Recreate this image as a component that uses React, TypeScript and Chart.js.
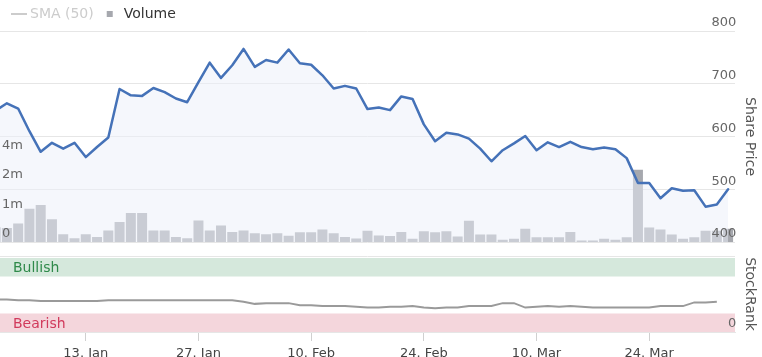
import React, { useEffect, useRef } from 'react';
import { Chart, registerables } from 'chart.js';

Chart.register(...registerables);

// Trading days shown on the ordinal x axis
const DAYS = [
  '31. Dec', '2. Jan', '3. Jan', '6. Jan', '7. Jan', '8. Jan', '9. Jan', '10. Jan',
  '13. Jan', '14. Jan', '15. Jan', '16. Jan', '17. Jan', '20. Jan', '21. Jan', '22. Jan', '23. Jan', '24. Jan',
  '27. Jan', '28. Jan', '29. Jan', '30. Jan', '31. Jan', '3. Feb', '4. Feb', '5. Feb', '6. Feb', '7. Feb',
  '10. Feb', '11. Feb', '12. Feb', '13. Feb', '14. Feb', '17. Feb', '18. Feb', '19. Feb', '20. Feb', '21. Feb',
  '24. Feb', '25. Feb', '26. Feb', '27. Feb', '28. Feb', '3. Mar', '4. Mar', '5. Mar', '6. Mar', '7. Mar',
  '10. Mar', '11. Mar', '12. Mar', '13. Mar', '14. Mar', '17. Mar', '18. Mar', '19. Mar', '20. Mar', '21. Mar',
  '24. Mar', '25. Mar', '26. Mar', '27. Mar', '28. Mar', '31. Mar', '1. Apr', '2. Apr',
];

const TICK_DAYS = ['13. Jan', '27. Jan', '10. Feb', '24. Feb', '10. Mar', '24. Mar'];

// Share price (pence)
const PRICE = [
  649, 663, 653, 610, 571, 588, 577, 588, 561, 580,
  598, 690, 678, 677, 692, 684, 672, 665, 703, 740,
  711, 735, 766, 732, 745, 740, 765, 739, 736, 716,
  691, 696, 691, 652, 655, 650, 676, 671, 623, 591,
  607, 604, 596, 577, 553, 574, 587, 601, 574, 589,
  580, 590, 580, 576, 579, 576, 559, 512, 512, 483,
  502, 497, 498, 467, 471, 500,
];

// Volume (millions of shares)
const VOLUME = [
  0.5, 0.47, 0.63, 1.09, 1.19, 0.77, 0.26, 0.13, 0.26, 0.17,
  0.39, 0.68, 0.98, 0.98, 0.39, 0.39, 0.17, 0.13, 0.73, 0.39,
  0.56, 0.34, 0.39, 0.30, 0.26, 0.30, 0.21, 0.33, 0.33, 0.42,
  0.30, 0.17, 0.12, 0.38, 0.22, 0.20, 0.34, 0.11, 0.36, 0.33,
  0.36, 0.19, 0.72, 0.25, 0.25, 0.08, 0.11, 0.45, 0.16, 0.16,
  0.16, 0.34, 0.05, 0.05, 0.11, 0.08, 0.16, 2.72, 0.49, 0.42,
  0.25, 0.11, 0.16, 0.38, 0.38, 0.45,
];

// StockRank
const STOCKRANK = [
  44, 44, 43, 43, 42, 42, 42, 42, 42, 42,
  43, 43, 43, 43, 43, 43, 43, 43, 43, 43,
  43, 43, 41, 38, 39, 39, 39, 36, 36, 35,
  35, 35, 34, 33, 33, 34, 34, 35, 33, 32,
  33, 33, 35, 35, 35, 39, 39, 33, 34, 35,
  34, 35, 34, 33, 33, 33, 33, 33, 33, 35,
  35, 35, 40, 40, 41, null,
];

const PRICE_TICKS = [400, 500, 600, 700, 800];
const VOL_TICKS = [0, 1, 2, 4];
const VOL_TICK_LABELS = ['0', '1m', '2m', '4m'];
const BULL_RANGE = [75, 100];
const BEAR_RANGE = [0, 25];
const BAND_LABELS = ['Bullish', 'Bearish'];

// view settings
const X_MIN = 0.389;
const X_MAX = 65.63;
const VOL_MAX = 7.14;
const SR_TOP = 102.67;

const volT = (v: number) => (v <= 1 ? v : 1 + Math.log2(v));

const BAR_COLOR = 'rgb(166,168,174)';
const LINE_COLOR = '#4572b8';
const BULL_BG = 'rgb(213,232,220)';
const BEAR_BG = 'rgb(244,214,220)';
const BULL_TEXT = '#2f8a4a';
const BEAR_TEXT = '#d13a5c';

const zeroWidth = (s: any) => {
  s.width = 0;
};

export default function App() {
  const topRef = useRef<HTMLCanvasElement>(null);
  const botRef = useRef<HTMLCanvasElement>(null);

  useEffect(() => {
    document.body.style.margin = '0';
    Chart.defaults.font.family = "'DejaVu Sans', sans-serif";
    Chart.defaults.font.size = 13;

    const idx = DAYS.map((_, i) => i);

    const smaSymbol = document.createElement('canvas');
    smaSymbol.width = 22;
    smaSymbol.height = 2;
    const sctx = smaSymbol.getContext('2d')!;
    sctx.fillStyle = '#cccccc';
    sctx.fillRect(6, 0, 16, 2);

    const top = new Chart(topRef.current!, {
      data: {
        datasets: [
          {
            type: 'line',
            label: 'SMA (50)',
            data: [],
            borderColor: '#cccccc',
            borderWidth: 2,
            yAxisID: 'yP',
            order: 0,
          },
          {
            type: 'bar',
            label: 'Volume',
            data: idx.map((i) => ({ x: i, y: volT(VOLUME[i]) })),
            backgroundColor: BAR_COLOR,
            borderWidth: 0,
            barPercentage: 1,
            categoryPercentage: 0.885,
            yAxisID: 'yV',
            order: 2,
            clip: 0,
          },
          {
            type: 'line',
            label: 'Share Price',
            data: idx.map((i) => ({ x: i, y: PRICE[i] })),
            borderColor: LINE_COLOR,
            borderWidth: 2.5,
            borderJoinStyle: 'round',
            borderCapStyle: 'round',
            pointRadius: 0,
            tension: 0,
            fill: { value: PRICE_TICKS[0] },
            backgroundColor: 'rgba(235,240,249,0.5)',
            yAxisID: 'yP',
            order: 0,
            clip: 0,
          },
        ],
      } as any,
      options: {
        animation: false,
        responsive: false,
        maintainAspectRatio: false,
        layout: { padding: { top: -2, left: 0, right: 0, bottom: 115 } },
        plugins: {
          tooltip: { enabled: false },
          legend: {
            position: 'top',
            align: 'start',
            labels: {
              usePointStyle: true,
              boxHeight: 6,
              padding: 9,
              font: { size: 14 },
              color: '#333333',
              generateLabels: (chart: any) => {
                const items = (Chart.defaults.plugins.legend.labels as any).generateLabels(chart);
                return items
                  .filter((it: any) => it.datasetIndex !== 2)
                  .map((it: any) =>
                    it.datasetIndex === 0
                      ? { ...it, pointStyle: smaSymbol, fontColor: '#cccccc', lineWidth: 0 }
                      : { ...it, pointStyle: 'rect', fillStyle: BAR_COLOR, strokeStyle: BAR_COLOR, lineWidth: 0, fontColor: '#333333' }
                  );
              },
            },
          },
        },
        scales: {
          x: { type: 'linear', min: X_MIN, max: X_MAX, offset: false, display: false },
          yP: {
            type: 'linear',
            position: 'right',
            min: PRICE_TICKS[0],
            max: PRICE_TICKS[PRICE_TICKS.length - 1],
            afterBuildTicks: (s: any) => {
              s.ticks = PRICE_TICKS.map((v) => ({ value: v }));
            },
            ticks: { mirror: true, padding: 1, labelOffset: -8, color: '#666666', z: 1, font: { size: 13 } },
            grid: { color: '#e6e6e6', drawTicks: false },
            border: { display: false },
            title: { display: true, text: 'Share Price', color: '#555555', font: { size: 14 } },
          },
          yV: {
            type: 'linear',
            position: 'left',
            min: 0,
            max: VOL_MAX,
            afterBuildTicks: (s: any) => {
              s.ticks = VOL_TICKS.map((v) => ({ value: volT(v) }));
            },
            afterFit: zeroWidth,
            ticks: {
              mirror: true,
              padding: 2,
              labelOffset: -8,
              color: '#666666',
              z: 1,
              callback: (_v: any, i: number) => VOL_TICK_LABELS[i],
            },
            grid: { display: false, drawTicks: false },
            border: { display: false },
          },
        },
      } as any,
    });

    const bot = new Chart(botRef.current!, {
      data: {
        datasets: [
          {
            type: 'line',
            label: 'StockRank',
            data: idx.map((i) => ({ x: i, y: STOCKRANK[i] })),
            borderColor: '#9a9a9a',
            borderWidth: 2,
            pointRadius: 0,
            fill: false,
            yAxisID: 'ySR',
            order: -1,
            clip: 0,
          },
          {
            type: 'line',
            label: 'Bullish',
            data: [
              { x: X_MIN, y: BULL_RANGE[1] },
              { x: X_MAX, y: BULL_RANGE[1] },
            ],
            borderColor: 'rgba(0,0,0,0)',
            borderWidth: 0,
            pointRadius: 0,
            fill: { value: BULL_RANGE[0] },
            backgroundColor: BULL_BG,
            yAxisID: 'ySR',
            order: 1,
          },
          {
            type: 'line',
            label: 'Bearish',
            data: [
              { x: X_MIN, y: BEAR_RANGE[1] },
              { x: X_MAX, y: BEAR_RANGE[1] },
            ],
            borderColor: 'rgba(0,0,0,0)',
            borderWidth: 0,
            pointRadius: 0,
            fill: { value: BEAR_RANGE[0] },
            backgroundColor: BEAR_BG,
            yAxisID: 'ySR',
            order: 1,
          },
        ],
      } as any,
      options: {
        animation: false,
        responsive: false,
        maintainAspectRatio: false,
        layout: { padding: { top: 256, left: 0, right: 0, bottom: 0 } },
        plugins: { legend: { display: false }, tooltip: { enabled: false } },
        scales: {
          x: {
            type: 'linear',
            min: X_MIN,
            max: X_MAX,
            offset: false,
            afterBuildTicks: (s: any) => {
              s.ticks = TICK_DAYS.map((d) => ({ value: DAYS.indexOf(d) }));
            },
            afterFit: (s: any) => {
              s.paddingLeft = 0;
              s.paddingRight = 0;
            },
            ticks: {
              callback: (v: any) => DAYS[v],
              color: '#444444',
              font: { size: 13, lineHeight: 1 },
              padding: 6,
              maxRotation: 0,
              autoSkip: false,
            },
            grid: { drawOnChartArea: false, drawTicks: true, tickLength: 9, color: '#d0d0d0' },
            border: { display: true, color: '#e6e6e6' },
          },
          ySR: {
            type: 'linear',
            position: 'right',
            min: 0,
            max: SR_TOP,
            afterBuildTicks: (s: any) => {
              s.ticks = [{ value: 0 }, { value: SR_TOP }];
            },
            ticks: {
              mirror: true,
              padding: 1,
              labelOffset: -8,
              color: '#666666',
              z: 1,
              callback: (v: any) => (v === 0 ? '0' : ''),
            },
            grid: { color: '#e6e6e6', drawTicks: false },
            border: { display: false },
            title: { display: true, text: 'StockRank', color: '#555555', font: { size: 14 } },
          },
          ySRL: {
            type: 'linear',
            position: 'left',
            min: 0,
            max: SR_TOP,
            afterBuildTicks: (s: any) => {
              s.ticks = [
                { value: (BULL_RANGE[0] + BULL_RANGE[1]) / 2 },
                { value: (BEAR_RANGE[0] + BEAR_RANGE[1]) / 2 },
              ];
            },
            afterFit: zeroWidth,
            ticks: {
              mirror: true,
              padding: 13,
              labelOffset: 1.5,
              z: 1,
              font: { size: 14 },
              color: (ctx: any) => (ctx.tick && ctx.tick.value > 50 ? BULL_TEXT : BEAR_TEXT),
              callback: (v: any) => (v > 50 ? BAND_LABELS[0] : BAND_LABELS[1]),
            },
            grid: { display: false, drawTicks: false },
            border: { display: false },
          },
        },
      } as any,
    });

    return () => {
      top.destroy();
      bot.destroy();
    };
  }, []);

  return (
    <div style={{ position: 'fixed', left: 0, top: 0, width: 762, height: 357, overflow: 'hidden', background: '#ffffff' }}>
      <canvas ref={botRef} width={762} height={366} style={{ position: 'absolute', left: 0, top: 0 }} />
      <canvas ref={topRef} width={762} height={357} style={{ position: 'absolute', left: 0, top: 0 }} />
    </div>
  );
}
